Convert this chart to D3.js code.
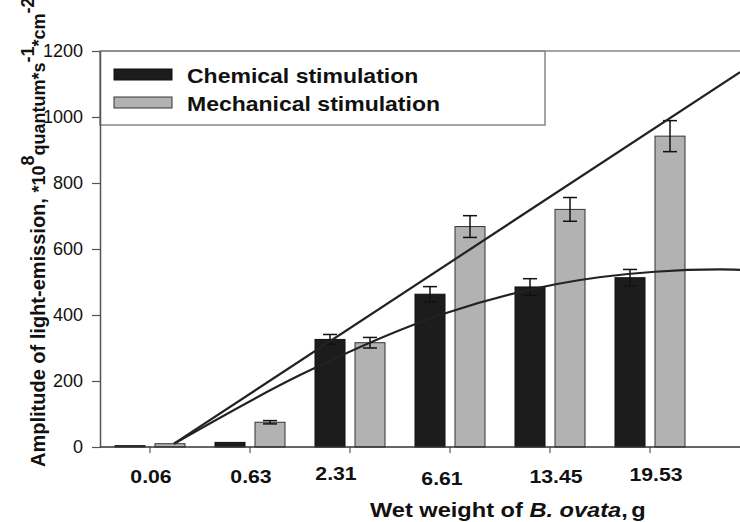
<!DOCTYPE html>
<html lang="en">
<head>
<meta charset="UTF-8">
<title>Light-emission amplitude vs wet weight</title>
<script src="https://cdn.jsdelivr.net/npm/d3@7"></script>
<style>
  body { margin: 0; background: #fff; }
  svg text { font-family: "Liberation Sans", Arial, sans-serif; fill: #111; }
</style>
</head>
<body>
<div id="chart"></div>
<script>
// data
var weights = ['0.06', '0.63', '2.31', '6.61', '13.45', '19.53'];
var chemical = [4, 14, 326, 463, 485, 513];
var chemicalErr = [0, 0, 15, 23, 25, 25];
var mechanical = [10, 75, 316, 668, 720, 942];
var mechanicalErr = [0, 5, 16, 33, 36, 47];
var yTicks = [0, 200, 400, 600, 800, 1000, 1200];
// fitted lines, x = category position (0 = first group)
var linearFitX = [0.24, 5.9];
var linearFitY = [10, 1136];
var curveFitX = [0.24, 1.5, 2.97, 4.07, 5.05, 5.7, 5.9];
var curveFitY = [10, 218, 407, 494, 531, 538, 537];

var width = 740, height = 522;
var plotLeft = 100, plotRight = 740, plotTop = 51, plotBottom = 447;
var stretch = 1.18; // the original figure is widened horizontally

var svg = d3.select('#chart').append('svg')
  .attr('width', width).attr('height', height);

var x0 = d3.scaleBand().domain(weights).range([plotLeft, 700]).padding(0);
var x1 = d3.scaleBand().domain(['chem', 'mech']).range([15, 85]).paddingInner(0.25);
var xPos = d3.scaleLinear().domain([-0.5, 5.5]).range([plotLeft, 700]);
var y = d3.scaleLinear().domain([0, 1200]).range([plotBottom, plotTop]);

// frame top line and legend box
svg.append('line').attr('x1', plotLeft).attr('x2', plotRight).attr('y1', plotTop).attr('y2', plotTop)
  .attr('stroke', '#888').attr('stroke-width', 1.5);
svg.append('rect').attr('x', plotLeft).attr('y', plotTop).attr('width', 445).attr('height', 74)
  .attr('fill', 'none').attr('stroke', '#888').attr('stroke-width', 1.5);

// bars
var groups = svg.selectAll('.grp').data(weights).enter().append('g')
  .attr('transform', function (d) { return 'translate(' + x0(d) + ',0)'; });

var series = [
  { key: 'chem', vals: chemical, err: chemicalErr, fill: '#1c1c1c', stroke: '#111' },
  { key: 'mech', vals: mechanical, err: mechanicalErr, fill: '#b2b2b2', stroke: '#333' }
];

series.forEach(function (s) {
  groups.append('rect')
    .attr('x', x1(s.key))
    .attr('width', x1.bandwidth())
    .attr('y', function (d, i) { return y(s.vals[i]); })
    .attr('height', function (d, i) { return plotBottom - y(s.vals[i]); })
    .attr('fill', s.fill).attr('stroke', s.stroke).attr('stroke-width', 1);
});

// error bars
series.forEach(function (s) {
  groups.each(function (d, i) {
    if (!s.err[i]) return;
    var g = d3.select(this);
    var cx = x1(s.key) + x1.bandwidth() / 2;
    var hi = y(s.vals[i] + s.err[i]), lo = y(s.vals[i] - s.err[i]);
    g.append('line').attr('x1', cx).attr('x2', cx).attr('y1', hi).attr('y2', lo)
      .attr('stroke', '#111').attr('stroke-width', 1.5);
    [hi, lo].forEach(function (yy) {
      g.append('line').attr('x1', cx - 7).attr('x2', cx + 7).attr('y1', yy).attr('y2', yy)
        .attr('stroke', '#111').attr('stroke-width', 1.5);
    });
  });
});

// fit lines
var linePath = d3.line().x(function (d) { return xPos(d[0]); }).y(function (d) { return y(d[1]); });
svg.append('path')
  .datum(d3.zip(linearFitX, linearFitY))
  .attr('d', linePath)
  .attr('fill', 'none').attr('stroke', '#222').attr('stroke-width', 2.2);
svg.append('path')
  .datum(d3.zip(curveFitX, curveFitY))
  .attr('d', linePath.curve(d3.curveMonotoneX))
  .attr('fill', 'none').attr('stroke', '#222').attr('stroke-width', 2.2);

// axes
var yAxis = svg.append('g').attr('transform', 'translate(' + plotLeft + ',0)')
  .call(d3.axisLeft(y).tickValues(yTicks).tickFormat(d3.format('d'))
    .tickSize(8).tickPadding(9).tickSizeOuter(0));
yAxis.select('.domain').attr('stroke', '#555').attr('stroke-width', 1.5);
yAxis.selectAll('.tick line').attr('stroke', '#555').attr('stroke-width', 1.2);
yAxis.selectAll('.tick text').attr('font-size', 18).attr('fill', '#222')
  .attr('font-family', '"Liberation Sans", Arial, sans-serif');

var xAxis = svg.append('g').attr('transform', 'translate(0,' + plotBottom + ')')
  .call(d3.axisBottom(x0).tickSize(6).tickSizeOuter(0).tickFormat(''));
xAxis.select('.domain').remove();
xAxis.selectAll('.tick line').attr('stroke', '#555').attr('stroke-width', 1.2);
svg.append('line').attr('x1', plotLeft).attr('x2', plotRight).attr('y1', plotBottom).attr('y2', plotBottom)
  .attr('stroke', '#333').attr('stroke-width', 1.5);

// tick labels (slightly irregular in the original)
var labelNudge = [[1, 483], [1, 483], [-14, 480], [-8, 485], [6, 483], [6, 481]];
svg.selectAll('.xlab').data(weights).enter().append('text')
  .attr('class', 'xlab')
  .attr('text-anchor', 'middle')
  .attr('font-weight', 'bold').attr('font-size', 18)
  .attr('transform', function (d, i) {
    return 'translate(' + (x0(d) + x0.bandwidth() / 2 + labelNudge[i][0]) + ',' + labelNudge[i][1] + ') scale(' + stretch + ',1)';
  })
  .text(function (d) { return d; });

// x title
var xt = svg.append('text')
  .attr('transform', 'translate(370,517) scale(' + stretch + ',1)')
  .attr('font-weight', 'bold').attr('font-size', 20);
xt.append('tspan').text('Wet weight of ');
xt.append('tspan').attr('font-style', 'italic').text('B. ovata');
xt.append('tspan').text(',');
xt.append('tspan').attr('dx', 3).text('g');

// y title
var yt = svg.append('text')
  .attr('transform', 'translate(45,467) rotate(-90)')
  .attr('font-weight', 'bold').attr('font-size', 20);
yt.append('tspan').text('Amplitude of light-emission, ');
var unit = yt.append('tspan').attr('font-size', 18);
unit.append('tspan').text('*10');
unit.append('tspan').attr('dy', -11).text('8');
unit.append('tspan').attr('dy', 11).text('quantum*s');
unit.append('tspan').attr('dy', -11).text('-1');
unit.append('tspan').attr('dy', 11).text('*cm');
unit.append('tspan').attr('dy', -11).text('-2');

// legend
var legendItems = ['Chemical stimulation', 'Mechanical stimulation'];
var legend = svg.selectAll('.leg').data(legendItems).enter().append('g')
  .attr('transform', function (d, i) { return 'translate(114,' + (69 + i * 28) + ')'; });
legend.append('rect').attr('width', 58).attr('height', 11)
  .attr('fill', function (d, i) { return series[i].fill; })
  .attr('stroke', function (d, i) { return series[i].stroke; });
legend.append('text')
  .attr('transform', 'translate(73,14) scale(1.15,1)')
  .attr('font-weight', 'bold').attr('font-size', 20)
  .text(function (d) { return d; });
</script>
</body>
</html>
